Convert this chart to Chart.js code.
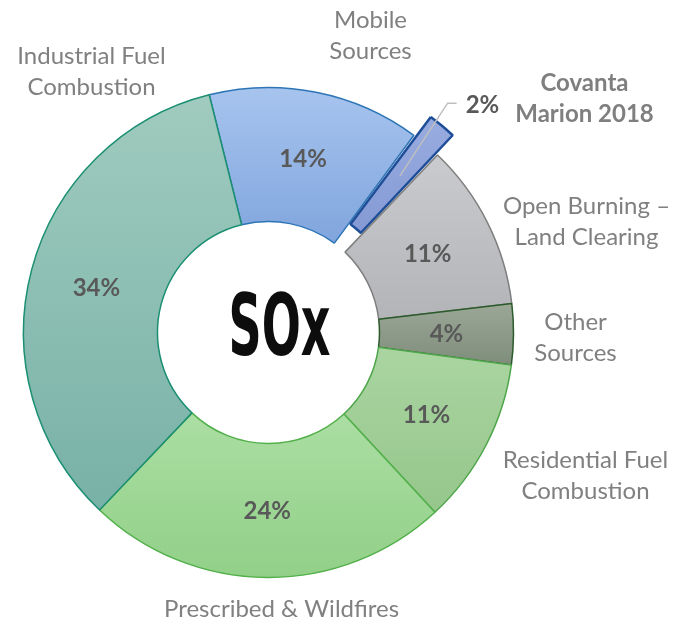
<!DOCTYPE html>
<html><head><meta charset="utf-8">
<script src="https://cdn.jsdelivr.net/npm/chart.js@4/dist/chart.umd.min.js"></script>
<style>html,body{margin:0;padding:0;background:#fff}#wrap{width:689px;height:625px;position:relative}</style>
</head><body><div id="wrap"><canvas id="c" width="689" height="625"></canvas></div>
<script>
// ---- data ----
const categories = ["Mobile Sources","Covanta Marion 2018","Open Burning – Land Clearing","Other Sources","Residential Fuel Combustion","Prescribed & Wildfires","Industrial Fuel Combustion"];
const labelLines = [["Mobile","Sources"],["Covanta","Marion 2018"],["Open Burning –","Land Clearing"],["Other","Sources"],["Residential Fuel","Combustion"],["Prescribed & Wildfires"],["Industrial Fuel","Combustion"]];
const shares = [14, 2, 11, 4, 11, 24, 34];
const centerTitle = "SOx";
const highlightIndex = 1;

// ---- style ----
const topColors    = ['#a7c4ee','#97abdf','#cacbce','#9ba797','#aad5a1','#abdea3','#a0cbbe'];
const bottomColors = ['#80a5dd','#8398d3','#b3b4b8','#7f8d7b','#95c68b','#92d088','#78b1a7'];
const borderColors = ['#2e75b6','#1f4e99','#7f7f7f','#2b5b2b','#4ea64a','#52b04a','#1b8f72'];
const borderWidths = [1.5, 2.5, 1.5, 1.5, 1.5, 1.5, 1.5];
const offsets      = [0, 53, 0, 0, 0, 0, 0];
const OUTER = 245, INNER = 111, ROT = -14;
// label anchor (block centre) relative to doughnut centre
const labelAnchors = [[102,-297],[316,-234],[318,-111],[307,5],[317,143],[13,277],[-177,-261]];
const LINE_H = 31;

function sliceRange(chart, i){
  const a = chart.chartArea;
  const cy = (a.top + a.bottom) / 2;
  const total = shares.reduce((s,v)=>s+v,0);
  let start = ROT;
  for (let k=0;k<i;k++) start += shares[k]/total*360;
  const end = start + shares[i]/total*360;
  let ymin=Infinity, ymax=-Infinity;
  for (let j=0;j<=40;j++){
    const d = start + (end-start)*j/40;
    const t = (d-90)*Math.PI/180;
    for (const r of [INNER, OUTER]) { const y = cy + Math.sin(t)*r; ymin=Math.min(ymin,y); ymax=Math.max(ymax,y); }
  }
  return [ymin, ymax];
}
function fill(ctx){
  const chart = ctx.chart, i = ctx.dataIndex;
  if (!chart.chartArea || i === undefined) return topColors[i||0];
  const [y0,y1] = sliceRange(chart, i);
  const g = chart.ctx.createLinearGradient(0, y0, 0, y1+0.01);
  g.addColorStop(0, topColors[i]);
  g.addColorStop(1, bottomColors[i]);
  return g;
}

const labelPlugin = {
  id: 'labels',
  afterDatasetsDraw(chart){
    const ctx = chart.ctx;
    const meta = chart.getDatasetMeta(0);
    const arc0 = meta.data[0];
    const cx = arc0.x, cy = arc0.y;
    ctx.save();
    // percent labels
    ctx.textAlign = 'center'; ctx.textBaseline = 'middle';
    ctx.font = 'bold 24px Lato';
    ctx.fillStyle = '#595959';
    meta.data.forEach((arc, i) => {
      if (i === highlightIndex) return;
      const p = arc.tooltipPosition();
      ctx.fillText(shares[i] + '%', p.x, p.y + 1);
    });
    // highlighted slice leader
    const h = meta.data[highlightIndex];
    const p0 = h.tooltipPosition();
    const mid = (h.startAngle + h.endAngle)/2 - 0.035;
    const bx = h.x + Math.cos(mid)*291, by = h.y + Math.sin(mid)*291;
    ctx.strokeStyle = '#bfbfbf'; ctx.lineWidth = 1.5;
    ctx.beginPath(); ctx.moveTo(p0.x, p0.y); ctx.lineTo(bx, by); ctx.lineTo(bx+9, by); ctx.stroke();
    ctx.textAlign = 'left';
    ctx.fillText(shares[highlightIndex] + '%', bx + 18, by + 2);
    // category labels
    ctx.textAlign = 'center';
    labelLines.forEach((lines, i) => {
      const [dx, dy] = labelAnchors[i];
      if (i === highlightIndex) { ctx.font = 'bold 24px Lato'; ctx.fillStyle = '#7f7f7f'; }
      else { ctx.font = '24px Lato'; ctx.fillStyle = '#808080'; }
      const n = lines.length;
      lines.forEach((ln, k) => {
        ctx.fillText(ln, cx + dx, cy + dy + (k - (n-1)/2) * LINE_H);
      });
    });
    // centre title
    ctx.font = 'bold 86px "DejaVu Sans Condensed", "DejaVu Sans"';
    const w = ctx.measureText(centerTitle).width;
    ctx.translate(cx + 11, cy + 22);
    ctx.scale(102 / w, 1);
    ctx.fillStyle = '#0d0d0d';
    ctx.textAlign = 'center'; ctx.textBaseline = 'alphabetic';
    ctx.fillText(centerTitle, 0, 0);
    ctx.restore();
  }
};

new Chart(document.getElementById('c'), {
  type: 'doughnut',
  data: {
    labels: categories,
    datasets: [{
      data: shares,
      backgroundColor: fill,
      borderColor: borderColors,
      borderWidth: borderWidths,
      offset: offsets,
      hoverOffset: 0
    }]
  },
  options: {
    responsive: false,
    devicePixelRatio: 1,
    animation: false,
    rotation: ROT,
    radius: OUTER,
    cutout: (INNER/OUTER*100) + '%',
    layout: { padding: { left: 20, right: 172, top: 60, bottom: 20 } },
    plugins: { legend: { display: false }, tooltip: { enabled: false } }
  },
  plugins: [labelPlugin]
});
</script>
</body></html>
